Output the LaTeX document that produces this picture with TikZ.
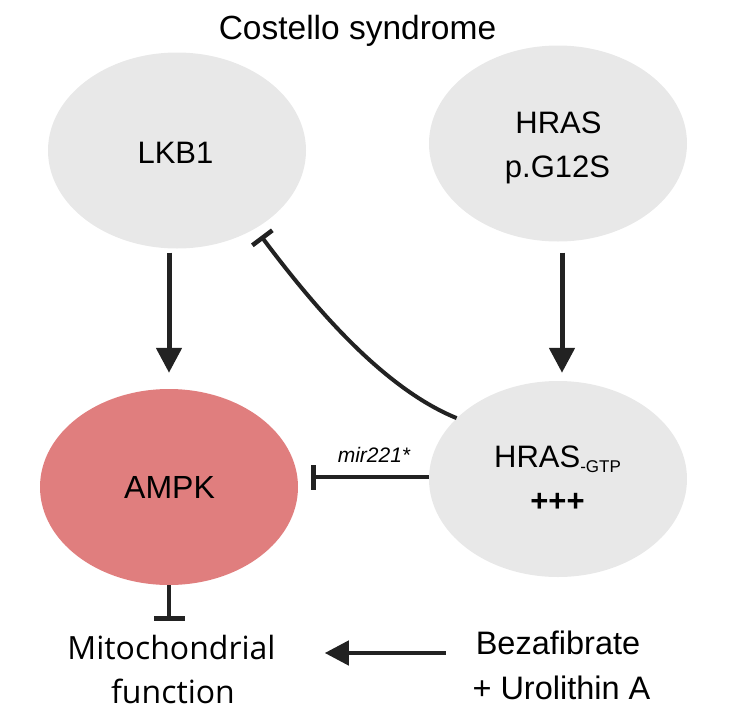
\documentclass[tikz,border=0pt]{standalone}
\usepackage{fontspec}
\setmainfont{Liberation Sans}
\newfontfamily\osans{Open Sans}
\usetikzlibrary{shapes.geometric,arrows.meta}
\definecolor{nodegray}{RGB}{232,232,232}
\definecolor{ampkred}{RGB}{224,126,126}
\definecolor{ink}{RGB}{34,34,34}
\begin{document}
\begin{tikzpicture}[x=1pt,y=-1pt,
  blob/.style={ellipse, minimum width=258pt, minimum height=196pt, inner sep=0pt, draw=none},
  txt/.style={anchor=base, inner sep=0pt, text=black},
  act/.style={draw=ink, line width=5pt, -{Triangle[length=25pt,width=25pt]}},
  inh/.style={draw=ink, line width=4.5pt, -{Bar[width=25pt,line width=4.5pt]}},
]
\useasboundingbox (0,0) rectangle (756,726);
% nodes
\node[blob, fill=nodegray] (lkb) at (177,150.5) {};
\node[blob, fill=nodegray] (hras) at (558,143.5) {};
\node[blob, fill=ampkred] (ampk) at (169,487) {};
\node[blob, fill=nodegray] (gtp) at (558,479) {};
% texts
\node[txt, font=\fontsize{33.5}{40}\selectfont] (title) at (357.5,39) {Costello syndrome};
\node[txt, font=\fontsize{31}{37}\selectfont] (lkbT) at (175.5,163) {LKB1};
\node[txt, font=\fontsize{31}{37}\selectfont] (hrasT1) at (558.5,133) {HRAS};
\node[txt, font=\fontsize{31}{37}\selectfont] (hrasT2) at (557.5,177) {p.G12S};
\node[txt, font=\fontsize{32}{38}\selectfont] (ampkT) at (169.5,498) {AMPK};
\node[txt, font=\fontsize{31}{37}\selectfont] (gtpT) at (557.5,467) {HRAS{\fontsize{17}{20}\selectfont\raisebox{-5pt}{-GTP}}};
\node[txt, font=\fontsize{31}{37}\selectfont\bfseries] (plusT) at (557.5,511) {+++};
\node[txt, font=\itshape\fontsize{21}{25}\selectfont] (mir) at (374,462) {mir221*};
\node[txt, font=\osans\fontsize{32}{38}\selectfont] (mito) at (171.5,659) {Mitochondrial};
\node[txt, font=\osans\fontsize{32}{38}\selectfont] (mitof) at (173,703) {function};
\node[txt, font=\fontsize{32.5}{39}\selectfont] (beza) at (558,654) {Bezafibrate};
\node[txt, font=\fontsize{32.5}{39}\selectfont] (uro) at (561.5,699) {+ Urolithin A};
\coordinate (arrowy) at (0,653);
\coordinate (lkbhit) at (261,236);
% connectors
\draw[act, shorten <=4pt, shorten >=16pt] (lkb.south -| ampk.north) -- (ampk.north);
\draw[act, shorten <=11pt, shorten >=8pt] ([xshift=4pt]hras.south) -- ([xshift=4pt]gtp.north);
\draw[inh, shorten >=13pt] ([yshift=2pt]gtp.west) -- ([yshift=2pt]gtp.west -| ampk.east);
\draw[inh, line width=4pt] (gtp.149) .. controls (380,387) and (309,300) .. (lkbhit);
\draw[draw=ink, line width=4.5pt, -{Bar[width=31pt,line width=5pt]}, shorten >=13pt] (ampk.south) -- (ampk.south |- mito.north);
\draw[draw=ink, line width=4.5pt, -{Triangle[length=24pt,width=24pt]}, shorten <=30pt, shorten >=49pt] (beza.west |- arrowy) -- (mito.east |- arrowy);
\end{tikzpicture}
\end{document}
